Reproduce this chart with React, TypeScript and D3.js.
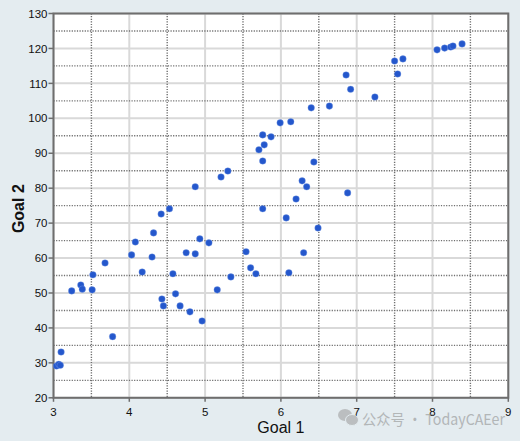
import React from "react";
import * as d3 from "d3";

const goal1: number[] = [
  3.04, 3.07, 3.09, 3.10, 3.24, 3.36, 3.38, 3.51, 3.52, 3.68, 3.78, 4.03, 4.08, 4.17, 4.30, 4.32,
  4.42, 4.43, 4.45, 4.53, 4.575, 4.61, 4.67, 4.75, 4.80, 4.87, 4.87, 4.93, 4.96, 5.05, 5.16, 5.21,
  5.30, 5.34, 5.54, 5.60, 5.67, 5.71, 5.76, 5.76, 5.76, 5.78, 5.87, 5.99, 6.07, 6.105, 6.13, 6.20,
  6.28, 6.30, 6.34, 6.40, 6.435, 6.49, 6.64, 6.86, 6.88, 6.92, 7.24, 7.50, 7.54, 7.61, 8.06, 8.16,
  8.24, 8.27, 8.39,
];
const goal2: number[] = [
  29.1, 29.6, 29.3, 33.1, 50.6, 52.3, 51.1, 50.9, 55.2, 58.6, 37.5, 60.9, 64.6, 56.0, 60.3, 67.2,
  72.6, 48.3, 46.3, 74.1, 55.5, 49.75, 46.3, 61.5, 44.6, 61.2, 80.4, 65.5, 42.0, 64.35, 50.9, 83.2,
  84.9, 54.6, 61.8, 57.2, 55.5, 91.0, 87.8, 74.1, 95.25, 92.4, 94.7, 98.7, 71.5, 55.8, 99.0, 76.9,
  82.1, 61.5, 80.4, 103.0, 87.5, 68.6, 103.5, 112.4, 78.65, 108.3, 106.1, 116.4, 112.7, 117.0, 119.6, 120.1,
  120.4, 120.7, 121.3,
];
const xTicks: number[] = [3, 4, 5, 6, 7, 8, 9];
const yTicks: number[] = [20, 30, 40, 50, 60, 70, 80, 90, 100, 110, 120, 130];
const xMinor: number[] = [3.5, 4.5, 5.5, 6.5, 7.5, 8.5];
const yMinor: number[] = [25, 35, 45, 55, 65, 75, 85, 95, 105, 115, 125];
const xTitle = "Goal 1";
const yTitle = "Goal 2";
const watermark = "公众号 · TodayCAEer";

const W = 520;
const H = 441;
const L = 53.5;
const R = 508.3;
const T = 13.5;
const B = 397.8;

export default function App() {
  const x = d3.scaleLinear().domain([3, 9]).range([L, R]);
  const y = d3.scaleLinear().domain([20, 130]).range([B, T]);
  const font = "'Liberation Sans', Arial, sans-serif";
  return (
    <svg
      width={W}
      height={H}
      style={{ position: "fixed", left: 0, top: 0 }}
      xmlns="http://www.w3.org/2000/svg"
    >
      <rect x={0} y={0} width={W} height={H} fill="#e4ecf0" />
      <rect x={L} y={T} width={R - L} height={B - T} fill="#ffffff" />
      {xTicks.map((t) => (
        <line key={"xg" + t} x1={x(t)} x2={x(t)} y1={T} y2={B} stroke="#d9d9d9" strokeWidth={2} />
      ))}
      {yTicks.map((t) => (
        <line key={"yg" + t} x1={L} x2={R} y1={y(t)} y2={y(t)} stroke="#d9d9d9" strokeWidth={2} />
      ))}
      {xMinor.map((t) => (
        <line key={"xm" + t} x1={x(t)} x2={x(t)} y1={T} y2={B} stroke="#6f6f6f" strokeWidth={1.4} strokeDasharray="1.2 1.4" />
      ))}
      {yMinor.map((t) => (
        <line key={"ym" + t} x1={L} x2={R} y1={y(t)} y2={y(t)} stroke="#6f6f6f" strokeWidth={1.4} strokeDasharray="1.2 1.4" />
      ))}
      <rect x={L} y={T} width={R - L} height={B - T} fill="none" stroke="#6e6e6e" strokeWidth={2} />
      {yTicks.map((t) => (
        <g key={"yt" + t}>
          <line x1={L - 5} x2={L} y1={y(t)} y2={y(t)} stroke="#6e6e6e" strokeWidth={1.5} />
          <text x={L - 6} y={y(t)} dy="0.36em" textAnchor="end" fontFamily={font} fontSize={11.5} fill="#111">
            {t}
          </text>
        </g>
      ))}
      {xTicks.map((t) => (
        <g key={"xt" + t}>
          <line x1={x(t)} x2={x(t)} y1={B} y2={B + 4} stroke="#6e6e6e" strokeWidth={1.5} />
          <text x={x(t)} y={416} textAnchor="middle" fontFamily={font} fontSize={11.5} fill="#111">
            {t}
          </text>
        </g>
      ))}
      {goal1.map((g, i) => (
        <circle key={"p" + i} cx={x(g)} cy={y(goal2[i])} r={3.3} fill="#2457cc" stroke="#7fa0e6" strokeWidth={0.6} strokeOpacity={0.6} />
      ))}
      <text x={(L + R) / 2} y={433} textAnchor="middle" fontFamily={font} fontSize={16} fill="#111">
        {xTitle}
      </text>
      <text
        transform={`translate(24,${(T + B) / 2 + 3}) rotate(-90)`}
        textAnchor="middle"
        fontFamily={font}
        fontSize={16}
        fontWeight="bold"
        fill="#111"
      >
        {yTitle}
      </text>
      <g opacity={0.55}>
        <ellipse cx={345} cy={415} rx={7} ry={6} fill="#9a9a9a" />
        <ellipse cx={352} cy={420} rx={6.5} ry={5.5} fill="#9a9a9a" stroke="#e4ecf0" strokeWidth={1} />
        <text
          x={362}
          y={425}
          fontFamily="'Noto Sans CJK SC', 'Noto Sans', sans-serif"
          fontSize={15}
          textLength={143}
          lengthAdjust="spacingAndGlyphs"
          fill="#8a8a8a"
        >
          {watermark}
        </text>
      </g>
    </svg>
  );
}
